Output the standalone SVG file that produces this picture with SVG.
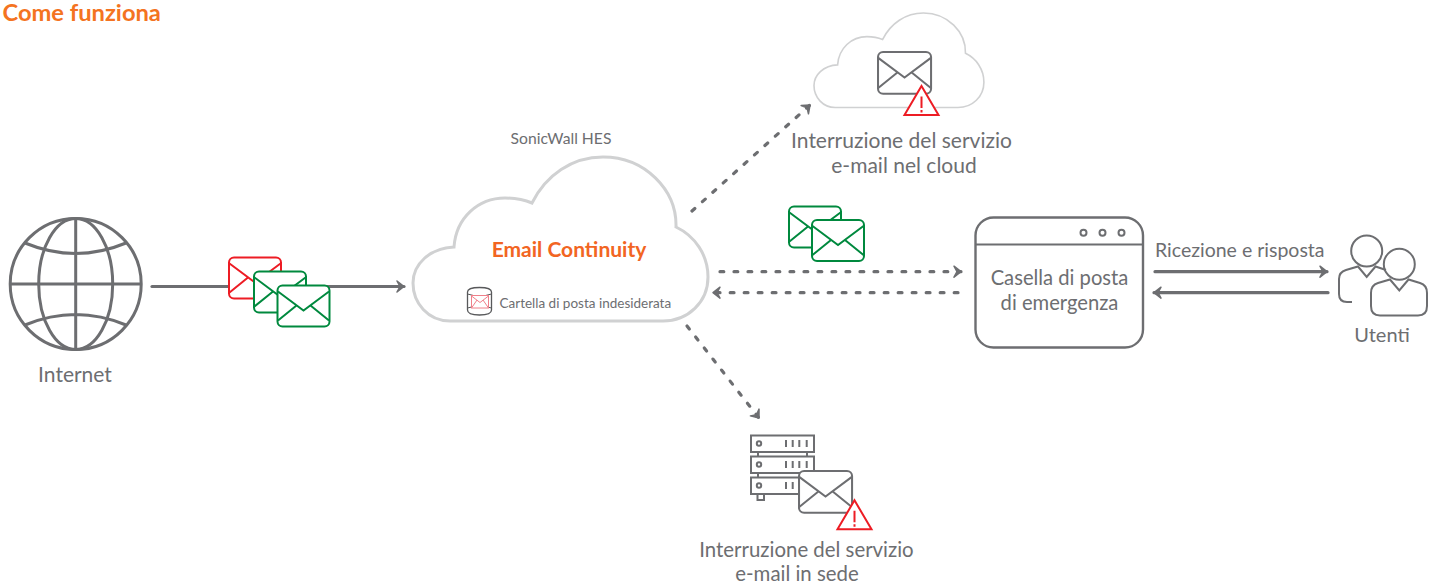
<svg xmlns="http://www.w3.org/2000/svg" width="1437" height="582" viewBox="0 0 1437 582">
<style>
text{font-family:Lato,"Open Sans","Liberation Sans",sans-serif;fill:#6d6e71;font-size:20px}
.m{text-anchor:middle}
.o{fill:#f26522;font-weight:700}
.l{font-size:21px}
.n{font-size:20.400px}
.g{fill:none;stroke:#6d6e71;stroke-width:3}
.t{fill:none;stroke:#6d6e71;stroke-width:2}
.solid{fill:none;stroke:#6d6e71;stroke-width:3.200;stroke-linecap:round}
.dash{fill:none;stroke:#6d6e71;stroke-width:3.200;stroke-linecap:round;stroke-dasharray:3.800 10.200}
.cloud{fill:#fff;stroke:#d0d1d2}
</style>
<defs>
<path id="cl" d="M450 321C428 321 413 303 413 283C413 264 430 248 454 247C456 218 478 198 505 198C515 198 525 200 532 203C546 175 572 157 603 157C645 157 677 190 676 227C695 236 708 255 708 277C708 302 688 321 663 321Z"/>
<g id="env">
<rect x="1" y="1" width="52" height="41" rx="5" fill="#fff" stroke="currentColor" stroke-width="2"/>
<path d="M1.500 7L27 26L52.500 7M1.500 36L20 21M52.500 36L34 21" fill="none" stroke="currentColor" stroke-width="2"/>
</g>
<g id="warn">
<path d="M17.500 1L34.500 30H.5Z" fill="#fff" stroke="#ed1c24" stroke-width="2"/>
<path d="M17.500 11.500V23M17.500 25V27.500" fill="none" stroke="#ed1c24" stroke-width="2"/>
</g>
<marker id="ah" markerUnits="userSpaceOnUse" markerWidth="14" markerHeight="14" refX="9" refY="7" orient="auto">
<path d="M2 1.500L9 7L2 12.500L5 7Z" fill="#6d6e71" stroke="#6d6e71" stroke-width="1.500" stroke-linejoin="round"/>
</marker>
</defs>

<text id="title" class="o" x="2.500" y="21" style="font-size:23.700px;fill:#f47321">Come funziona</text>

<g id="connectors">
<path class="solid" d="M152 286.500H404" marker-end="url(#ah)"/>
<path class="dash" d="M692 211L810 105" marker-end="url(#ah)"/>
<path class="dash" d="M720 271.700H961" marker-end="url(#ah)"/>
<path class="dash" d="M958 292.700H713" marker-end="url(#ah)"/>
<path class="dash" d="M687 326L759 418" marker-end="url(#ah)"/>
<path class="solid" d="M1155 271.700H1327" marker-end="url(#ah)"/>
<path class="solid" d="M1328 292.700H1154" marker-end="url(#ah)"/>
</g>

<g id="internet">
<circle class="g" cx="75.700" cy="284" r="65.500"/>
<ellipse class="g" cx="75.700" cy="284" rx="37" ry="65.500"/>
<path class="g" d="M75.700 218.500V349.500M10 284H141M25 243Q75.700 264 126 243M25 325Q75.700 304 126 325"/>
<text class="m l" x="75" y="381.500">Internet</text>
</g>

<g id="mail-in">
<use href="#env" x="228" y="256.500" color="#ed1c24"/>
<use href="#env" x="253" y="270.500" color="#00893e"/>
<use href="#env" x="276.500" y="284.500" color="#00893e"/>
</g>

<g id="hes">
<text class="m" x="561" y="144" style="font-size:15.700px">SonicWall HES</text>
<use href="#cl" class="cloud" stroke-width="3"/>
<text class="m o l" x="569" y="257">Email Continuity</text>
<g id="spam-icon">
<path d="M467.500 292Q467.500 287.500 479.500 287.500Q491.500 287.500 491.500 292V310Q491.500 315 479.500 315Q467.500 315 467.500 310Z" fill="#fff" stroke="#58595b" stroke-width="1.300"/>
<path d="M467.500 294Q479.500 298 491.500 294M467.500 308Q479.500 304 491.500 308" fill="none" stroke="#58595b" stroke-width="1"/>
<rect x="471.500" y="295.500" width="17" height="12.500" fill="#fff" stroke="#f0808a"/>
<path d="M471.500 296L480 302.500L488.500 296M471.500 308L477 300M488.500 308L483 300" fill="none" stroke="#f0808a"/>
</g>
<text x="499.500" y="308" style="font-size:13.500px">Cartella di posta indesiderata</text>
</g>

<g id="cloud-outage">
<use href="#cl" class="cloud" stroke-width="2.800" transform="translate(576.100 -77.400) scale(.576)"/>
<use href="#env" transform="translate(877 51) scale(1.020)" color="#6d6e71"/>
<use href="#warn" x="904" y="85"/>
<text class="m l" x="901.500" y="148">Interruzione del servizio</text>
<text class="m l" x="904" y="173">e-mail nel cloud</text>
</g>

<g id="mail-out">
<use href="#env" x="788" y="205.500" color="#00893e"/>
<use href="#env" x="811" y="219" color="#00893e"/>
</g>

<g id="inbox">
<rect x="975.500" y="217.500" width="167.500" height="130" rx="18" fill="#fff" stroke="#6d6e71" stroke-width="2.400"/>
<path class="t" d="M975.500 244.500H1143"/>
<circle class="t" cx="1083.500" cy="232.700" r="3"/>
<circle class="t" cx="1102.500" cy="232.700" r="3"/>
<circle class="t" cx="1121.500" cy="232.700" r="3"/>
<text class="m" x="1059.500" y="285" style="font-size:20.200px">Casella di posta</text>
<text class="m" x="1059.500" y="310" style="font-size:20.200px">di emergenza</text>
</g>

<text id="reply-label" x="1155" y="256.500" style="font-size:19.500px">Ricezione e risposta</text>

<g id="users">
<path class="t" d="M1352 302H1347Q1339 302 1339 294V279Q1339 272 1346 270L1358 266.500L1366.700 277L1375.500 266.500L1386 270" fill="#fff"/>
<circle class="t" cx="1366.700" cy="251" r="15.500" fill="#fff"/>
<path class="t" d="M1371 306V293Q1371 285 1378 283L1390 279.500L1399.300 290.500L1408.500 279.500L1420 283Q1427 285 1427 293V306Q1427 315.500 1418 315.500H1380Q1371 315.500 1371 306Z" fill="#fff"/>
<circle class="t" cx="1399.300" cy="264.300" r="15.500" fill="#fff"/>
<text class="m" x="1382" y="342">Utenti</text>
</g>

<g id="onprem-outage">
<g class="t">
<rect x="751" y="435.500" width="63" height="16.500"/>
<rect x="751" y="456.500" width="63" height="16.500"/>
<rect x="751" y="477.500" width="63" height="16.500"/>
<path d="M758 452V456.500M807 452V456.500M758 473V477.500M807 473V477.500M757.500 494V500H764V494"/>
<circle cx="759" cy="443.500" r="2.200"/>
<circle cx="759" cy="464.500" r="2.200"/>
<circle cx="759" cy="485.500" r="2.200"/>
<path d="M786 440V447M792.700 440V447M799.300 440V447M806.700 440V447M786 461V468M792.700 461V468M799.300 461V468M806.700 461V468M786 482V489M792.700 482V489"/>
</g>
<use href="#env" transform="translate(798 470) scale(1.020)" color="#6d6e71"/>
<use href="#warn" x="837" y="499.300"/>
<text class="m n" x="806.500" y="556.500">Interruzione del servizio</text>
<text class="m n" x="797" y="580.500">e-mail in sede</text>
</g>
</svg>
